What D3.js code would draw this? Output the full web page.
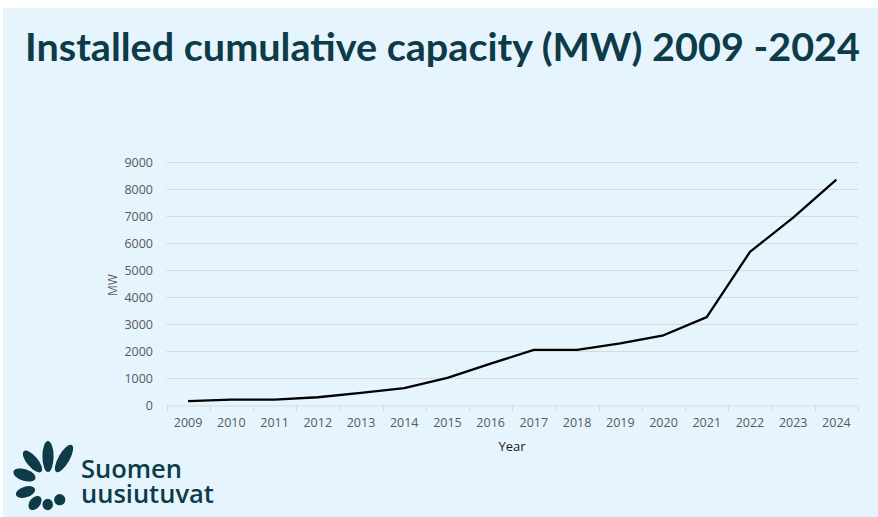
<!DOCTYPE html>
<html>
<head>
<meta charset="utf-8">
<script src="https://cdn.jsdelivr.net/npm/d3@7"></script>
<style>
  html, body { margin: 0; padding: 0; background: #ffffff; }
  svg { display: block; }
</style>
</head>
<body>
<svg id="chart" width="878" height="517"></svg>
<script>
const years = ["2009","2010","2011","2012","2013","2014","2015","2016","2017","2018","2019","2020","2021","2022","2023","2024"];
const capacity = [147, 197, 197, 288, 448, 627, 1005, 1533, 2044, 2041, 2284, 2586, 3257, 5677, 6946, 8358];
const yTicks = [0, 1000, 2000, 3000, 4000, 5000, 6000, 7000, 8000, 9000];
const titleText = "Installed cumulative capacity (MW) 2009 -2024";
const xTitle = "Year";
const yTitle = "MW";
const logoLines = ["Suomen", "uusiutuvat"];

(function () {
const svg = d3.select("#chart");
const W = 878, H = 517;
const dark = "#0d3b47";

// background panel
svg.append("rect").attr("x", 3).attr("y", 8).attr("width", W - 3).attr("height", H - 8).attr("fill", "#e6f4fe");

// title
svg.append("text")
  .attr("x", 25).attr("y", 61)
  .attr("font-family", "Lato, 'Open Sans', sans-serif")
  .attr("font-weight", "bold")
  .attr("font-size", 39)
  .attr("fill", dark)
  .attr("textLength", 835)
  .attr("lengthAdjust", "spacingAndGlyphs")
  .text(titleText);

// plot
const pLeft = 166.5, pRight = 858, pTop = 162.3, pBottom = 405;
const x = d3.scaleBand().domain(years).range([pLeft, pRight]);
const y = d3.scaleLinear().domain([0, 9000]).range([pBottom, pTop]);

const g = svg.append("g");

// gridlines
g.selectAll("line.grid").data(yTicks.filter(d => d > 0)).join("line")
  .attr("class", "grid")
  .attr("x1", pLeft).attr("x2", pRight)
  .attr("y1", d => Math.round(y(d)) + 0.5).attr("y2", d => Math.round(y(d)) + 0.5)
  .attr("stroke", "#d9d9d9").attr("stroke-width", 1);

// y axis labels
const yAxis = d3.axisLeft(y).tickValues(yTicks).tickFormat(d3.format("d")).tickSize(0).tickPadding(0);
const yg = g.append("g").attr("transform", `translate(${153},0)`).call(yAxis);
yg.select(".domain").remove();
yg.selectAll("text")
  .attr("font-family", "'Open Sans', sans-serif")
  .attr("font-size", 12.5)
  .attr("fill", "#595959");

// x axis
const xAxis = d3.axisBottom(x).tickSize(0).tickPadding(0);
const xg = g.append("g").attr("transform", `translate(0,${Math.round(pBottom) + 0.5})`).call(xAxis);
xg.select(".domain").attr("stroke", "#d9d9d9").attr("stroke-width", 1);
xg.selectAll("text")
  .attr("y", 13)
  .attr("dy", "0.71em")
  .attr("font-family", "'Open Sans', sans-serif")
  .attr("font-size", 12.5)
  .attr("fill", "#595959");
// boundary tick marks
const bounds = years.map(d => x(d)).concat([x(years[years.length - 1]) + x.bandwidth()]);
xg.selectAll("line.bt").data(bounds).join("line")
  .attr("class", "bt")
  .attr("x1", d => Math.round(d) + 0.5).attr("x2", d => Math.round(d) + 0.5)
  .attr("y1", 0).attr("y2", 5)
  .attr("stroke", "#d9d9d9");

// axis titles
svg.append("text")
  .attr("x", 512).attr("y", 451)
  .attr("text-anchor", "middle")
  .attr("font-family", "'Open Sans', sans-serif")
  .attr("font-size", 13)
  .attr("fill", "#1a1a1a")
  .text(xTitle);
svg.append("text")
  .attr("transform", "translate(117,285) rotate(-90)")
  .attr("text-anchor", "middle")
  .attr("font-family", "'Open Sans', sans-serif")
  .attr("font-size", 12)
  .attr("fill", "#595959")
  .text(yTitle);

// line
const line = d3.line()
  .x((d, i) => x(years[i]) + x.bandwidth() / 2)
  .y(d => y(d));
g.append("path").datum(capacity)
  .attr("d", line)
  .attr("fill", "none")
  .attr("stroke", "#000")
  .attr("stroke-width", 2.3)
  .attr("stroke-linejoin", "round");

// logo
const logo = svg.append("g").attr("fill", dark);
const leaves = [
  {cx: 48, cy: 456.5, rx: 5.6, ry: 15.5, rot: 0},
  {cx: 64, cy: 458.5, rx: 5.5, ry: 15.5, rot: 30},
  {cx: 32.5, cy: 461.5, rx: 5.5, ry: 13.5, rot: -40},
  {cx: 24.5, cy: 475, rx: 5.8, ry: 11.5, rot: -72},
  {cx: 25.5, cy: 492, rx: 5.3, ry: 10, rot: 72},
  {cx: 35, cy: 503, rx: 5.3, ry: 8, rot: 40},
  {cx: 47.7, cy: 504.5, rx: 5.2, ry: 5.8, rot: 0},
  {cx: 59.7, cy: 499.7, rx: 5.6, ry: 5.6, rot: 0}
];
logo.selectAll("ellipse").data(leaves).join("ellipse")
  .attr("cx", 0).attr("cy", 0)
  .attr("rx", d => d.rx).attr("ry", d => d.ry)
  .attr("transform", d => `translate(${d.cx},${d.cy}) rotate(${d.rot})`);
const logoText = logo.append("text")
  .attr("font-family", "'Open Sans', sans-serif")
  .attr("font-weight", 600)
  .attr("font-size", 25.5)
  .attr("fill", dark);
logoText.selectAll("tspan").data(logoLines).join("tspan")
  .attr("x", 81)
  .attr("y", (d, i) => 478 + i * 25)
  .text(d => d);
})();
</script>
</body>
</html>
